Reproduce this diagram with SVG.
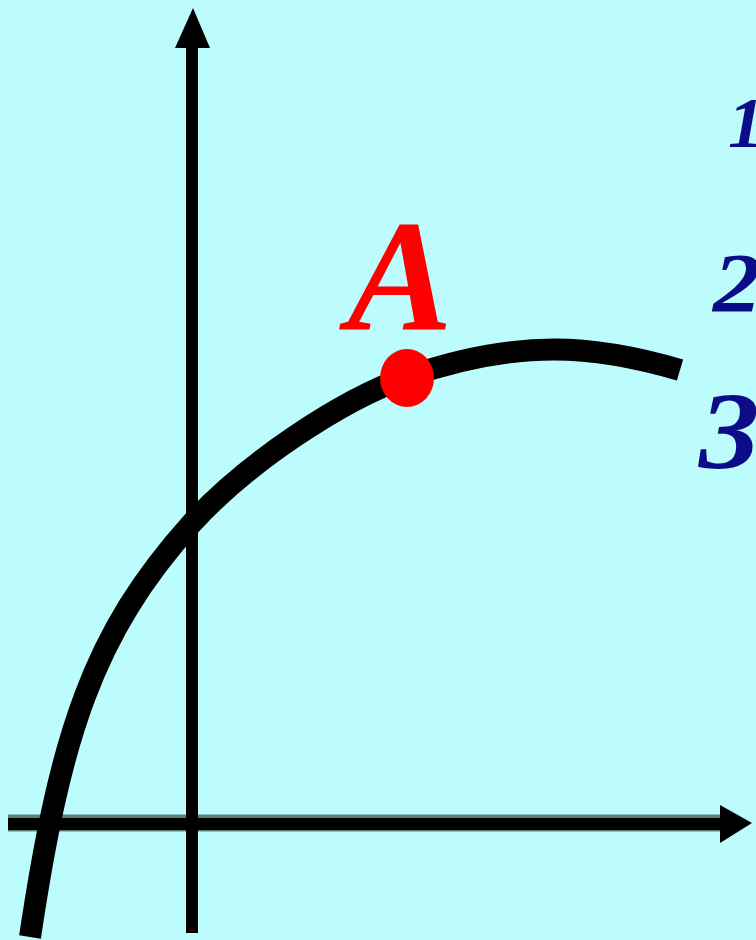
<svg xmlns="http://www.w3.org/2000/svg" width="756" height="940" viewBox="0 0 756 940">
  <style>
    .axis { stroke: #000; stroke-width: 12; fill: none; }
    .axis-edge { stroke: #5e7e7c; stroke-width: 17; fill: none; }
    .head { fill: #000; }
    .curve { stroke: #000; stroke-width: 22; fill: none; stroke-linecap: butt; stroke-linejoin: round; }
    .num { font-family: "Liberation Serif", "DejaVu Serif", serif; font-weight: bold; font-style: italic; fill: #0c0c88; }
    .lbl { font-family: "Liberation Serif", "DejaVu Serif", serif; font-weight: bold; font-style: italic; fill: #ff0000; }
  </style>
  <rect x="0" y="0" width="756" height="940" fill="#bcfcfc"/>

  <g id="axes">
    <g id="x-axis">
      <line class="axis-edge" x1="8" y1="823" x2="722" y2="823"/>
      <line class="axis" x1="8" y1="824" x2="722" y2="824"/>
      <polygon class="head" points="720,805 752,823 720,843"/>
    </g>
    <g id="y-axis">
      <line class="axis" x1="192" y1="933" x2="192" y2="46"/>
      <polygon class="head" points="193,8 175,48 210,48"/>
    </g>
  </g>

  <g id="curve">
    <path class="curve" d="M30,937 C60,737 92,634 192,523 C245.6,463.8 341,400 407,377 C520,338 595,345 680,370"/>
  </g>

  <g id="point-A">
    <ellipse cx="407" cy="378" rx="27" ry="29" fill="#ff0000"/>
    <text class="lbl" x="400" y="330" font-size="158" text-anchor="middle">A</text>
  </g>

  <g id="labels">
    <text class="num" x="728" y="147" font-size="72">1</text>
    <text class="num" x="713" y="312" font-size="84" transform="translate(713 0) scale(1.15 1) translate(-713 0)">2</text>
    <text class="num" x="699" y="468" font-size="110" transform="translate(699 0) scale(1.1 1) translate(-699 0)">3</text>
  </g>
</svg>
